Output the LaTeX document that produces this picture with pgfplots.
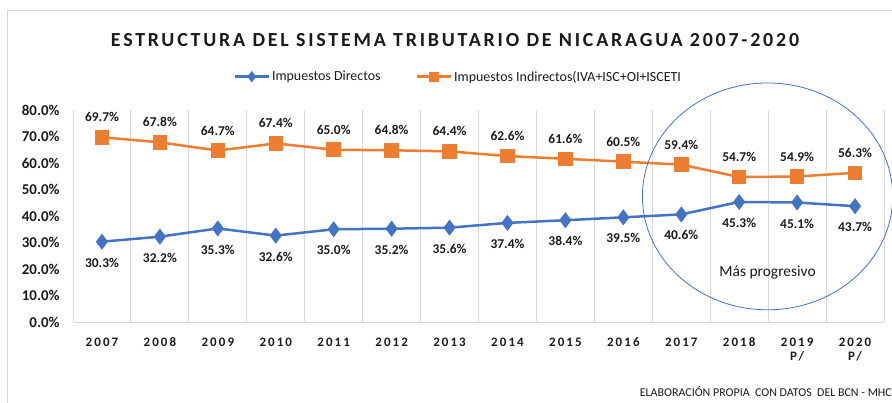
\documentclass[border=0pt]{standalone}
\usepackage{fontspec}
\setmainfont{Carlito}
\newfontfamily\spacedfont[LetterSpace=16]{Carlito}
\newfontfamily\titlefont[LetterSpace=14]{Carlito}
\usepackage{pgfplots}
\pgfplotsset{compat=1.18}
\definecolor{cblue}{HTML}{4472C4}
\definecolor{corange}{HTML}{ED7D31}
\definecolor{gridgray}{HTML}{D9D9D9}
\definecolor{txt}{HTML}{1A1A1A}
\begin{document}
\begin{tikzpicture}
\useasboundingbox (0bp,0bp) rectangle (892bp,403bp);
\draw[gridgray, line width=1bp] (7bp,0bp) -- (7bp,392bp) -- (892bp,392bp);
\node[text=txt, font=\titlefont\bfseries\fontsize{20}{24}\selectfont] at (455bp,363bp) {ESTRUCTURA DEL SISTEMA TRIBUTARIO DE NICARAGUA 2007-2020};
\node[text=txt, font=\fontsize{12}{14}\selectfont, anchor=east, inner sep=0pt] at (892bp,11bp) {ELABORACIÓN PROPIA \ CON DATOS \ DEL BCN - MHC};
\begin{axis}[
  at={(73bp,81bp)}, anchor=south west, scale only axis,
  width=811bp, height=212bp,
  xmin=-0.5, xmax=13.5, ymin=0, ymax=80,
  xtick={0,...,13},
  xticklabels={2007,2008,2009,2010,2011,2012,2013,2014,2015,2016,2017,2018,{2019\\P/},{2020\\P/}},
  xticklabel style={text=txt, font=\spacedfont\bfseries\fontsize{13}{15}\selectfont, align=center, anchor=north, yshift=-12bp},
  ytick={0,10,...,80},
  yticklabel={\pgfmathprintnumber[fixed,fixed zerofill,precision=1]{\tick}\%},
  yticklabel style={text=txt, font=\bfseries\fontsize{15}{17}\selectfont, xshift=-10bp},
  /pgf/number format/assume math mode=true,
  major tick length=0pt, minor tick length=0pt,
  minor xtick={-0.5,0.5,...,13.5},
  xminorgrids, minor grid style={gridgray, line width=1bp},
  hide obscured x ticks=false,
  axis line style={draw=none},
  clip=false,
  legend style={at={(0.475,1.157)}, anchor=center, draw=none, fill=none,
    font=\fontsize{14}{16}\selectfont, text=txt,
    /tikz/every even column/.append style={column sep=33bp}},
  legend columns=2,
  legend cell align=left,
  legend image post style={mark size=3.7bp},
  legend image code/.code={\draw[#1, line width=2.5bp, mark repeat=2, mark phase=2] plot coordinates {(0bp,0bp) (17bp,0bp) (34bp,0bp)};},
  nodes near coords={\pgfmathprintnumber[fixed,fixed zerofill,precision=1]{\pgfplotspointmeta}\%},
]
\draw[gridgray, line width=1bp] (axis cs:-0.5,0) -- (axis cs:13.5,0);
\addplot[cblue, line width=2.5bp, mark=diamond*, mark size=6bp, mark options={solid},
  every node near coord/.style={anchor=center, yshift=-21bp, text=txt, font=\bfseries\fontsize{13.5}{15}\selectfont}]
  coordinates {(0,30.3) (1,32.2) (2,35.3) (3,32.6) (4,35.0) (5,35.2) (6,35.6) (7,37.4) (8,38.4) (9,39.5) (10,40.6) (11,45.3) (12,45.1) (13,43.7)};
\addlegendentry{Impuestos Directos}
\addplot[corange, line width=2.5bp, mark=square*, mark size=6bp, mark options={solid},
  every node near coord/.style={anchor=center, yshift=20bp, text=txt, font=\bfseries\fontsize{13.5}{15}\selectfont}]
  coordinates {(0,69.7) (1,67.8) (2,64.7) (3,67.4) (4,65.0) (5,64.8) (6,64.4) (7,62.6) (8,61.6) (9,60.5) (10,59.4) (11,54.7) (12,54.9) (13,56.3)};
\addlegendentry{Impuestos Indirectos(IVA+ISC+OI+ISCETI}
\draw[cblue, line width=0.8bp] (axis cs:11.49,47.4) ellipse [x radius=2.16, y radius=42.8];
\node[text=txt, font=\fontsize{15.5}{18}\selectfont] at (axis cs:11.49,18.5) {Más progresivo};
\end{axis}
\end{tikzpicture}
\end{document}
